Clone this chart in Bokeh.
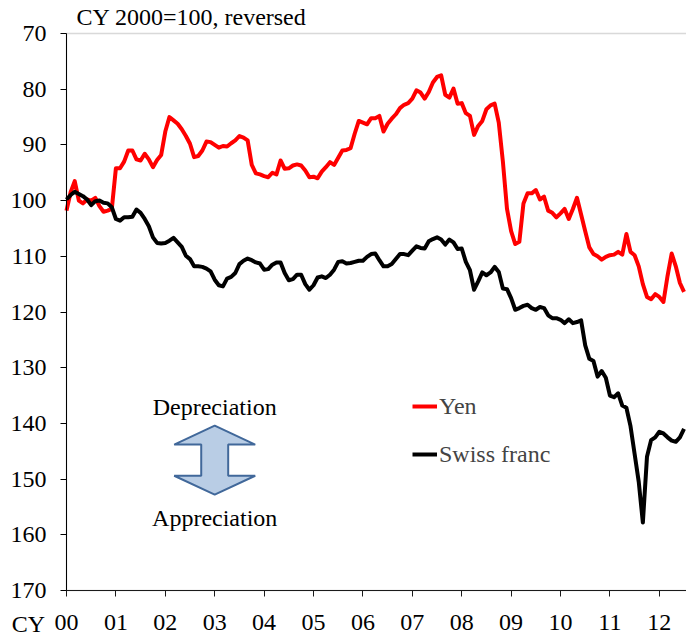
import numpy as np
from bokeh.plotting import figure
from bokeh.models import (Range1d, FixedTicker, Legend, LegendItem, Label, BoxAnnotation,
                          PolyAnnotation, ColumnDataSource)
from bokeh.embed import file_html
from bokeh.resources import INLINE

# ---------------- data (monthly, Jan 2000 onwards; CY2000=100, reversed axis) -------------
start_year = 2000
yen = [101.8, 98.5, 96.5, 100.0, 100.5, 99.8, 100.0, 99.5, 101.0, 102.0, 101.8, 101.5,
       94.2, 94.2, 93.0, 91.0, 91.0, 92.6, 92.8, 91.6, 92.6, 94.0, 92.7, 91.8,
       87.6, 85.0, 85.6, 86.2, 87.2, 88.4, 89.8, 92.2, 92.0, 91.0, 89.4, 89.5,
       90.0, 90.5, 90.2, 90.3, 89.7, 89.2, 88.4, 88.7, 89.2, 93.6, 95.1, 95.3,
       95.6, 95.8, 95.0, 95.3, 92.8, 94.3, 94.2, 93.7, 93.5, 93.7, 94.6, 95.8,
       95.7, 96.0, 94.8, 94.0, 93.1, 93.6, 92.3, 91.0, 90.9, 90.6, 88.0, 85.7,
       86.0, 86.3, 85.2, 85.2, 84.8, 87.6, 86.2, 85.3, 84.5, 83.4, 82.8, 82.5,
       81.7, 80.2, 80.6, 81.7, 80.5, 78.8, 77.8, 77.5, 81.0, 81.5, 79.9, 82.6,
       82.5, 84.3, 84.8, 88.2, 86.6, 85.7, 83.6, 82.9, 82.6, 86.0, 93.0, 101.5,
       105.5, 107.8, 107.4, 100.5, 98.7, 98.7, 98.1, 99.8, 99.3, 101.8, 102.2, 103.0,
       102.3, 101.5, 103.3, 101.5, 99.5, 102.5, 105.5, 108.4, 109.6, 110.0, 110.6, 110.1,
       109.8, 109.7, 109.2, 109.7, 106.0, 109.2, 109.8, 111.8, 115.0, 117.3, 117.7, 116.8,
       117.3, 118.2, 113.5, 109.5, 111.8, 114.8, 116.4]
swiss_franc = [99.8, 99.0, 98.4, 98.8, 99.2, 99.8, 100.8, 100.1, 100.0, 100.4, 100.5, 101.2,
       103.3, 103.6, 103.0, 103.0, 102.9, 101.6, 102.2, 103.3, 104.6, 106.6, 107.6, 107.7,
       107.6, 107.2, 106.7, 107.5, 108.3, 109.9, 110.5, 111.8, 111.8, 111.9, 112.2, 112.7,
       114.2, 115.2, 115.4, 114.0, 113.7, 113.0, 111.4, 110.8, 110.4, 110.7, 111.1, 111.3,
       112.4, 112.3, 111.5, 111.1, 111.1, 113.0, 114.3, 114.1, 113.3, 113.3, 115.0, 116.0,
       115.2, 113.8, 113.6, 113.9, 113.3, 112.4, 111.0, 110.9, 111.3, 111.2, 111.0, 110.8,
       110.8, 110.1, 109.6, 109.5, 110.7, 111.8, 111.8, 111.4, 110.5, 109.6, 109.6, 109.8,
       109.0, 108.2, 108.5, 108.6, 107.3, 106.9, 106.6, 107.0, 107.9, 107.0, 107.5, 108.7,
       108.6, 111.0, 112.5, 116.0, 114.5, 112.9, 113.4, 112.9, 111.9, 112.8, 115.8, 115.9,
       117.5, 119.6, 119.3, 118.9, 118.7, 119.3, 119.6, 119.1, 119.3, 120.6, 121.1, 121.1,
       121.4, 122.0, 121.3, 122.0, 121.8, 121.5, 126.0, 128.4, 128.8, 131.6, 130.6, 131.8,
       135.0, 135.3, 134.6, 136.8, 137.2, 140.5, 145.5, 150.5, 157.8, 146.0, 143.0, 142.5,
       141.5, 141.8, 142.5, 143.1, 143.3, 142.5, 141.0]
year_labels = ["00", "01", "02", "03", "04", "05", "06", "07", "08", "09", "10", "11", "12"]
y_ticks = [70, 80, 90, 100, 110, 120, 130, 140, 150, 160, 170]
series_names = ["Yen", "Swiss franc"]
series_colors = ["#FF0000", "#000000"]

t = [start_year + i / 12.0 for i in range(len(yen))]
src = ColumnDataSource(dict(t=t, yen=yen, chf=swiss_franc))

FONT = "Liberation Serif"
FS = "24px"

# plotting area: x 2000 .. mid-2012, y 70 .. 170 (reversed)
x_lo, x_hi = start_year, start_year + 150.6 / 12.0
y_lo, y_hi = 70, 170
# the frame covers the whole canvas; axes are fixed at the plotting-area edges
px_per_year = 620 / (x_hi - x_lo)
px_per_unit = 557 / (y_hi - y_lo)
x_start = x_lo - 66 / px_per_year
y_top = y_lo - 33 / px_per_unit
y_bottom = y_hi + 51 / px_per_unit

p = figure(width=686, height=641, output_backend="svg", toolbar_location=None,
           x_range=Range1d(x_start, x_hi), y_range=Range1d(y_bottom, y_top),
           min_border=0, min_border_left=0, min_border_right=0,
           min_border_top=0, min_border_bottom=0)
p.outline_line_color = None
p.grid.grid_line_color = None
p.background_fill_color = "white"
p.border_fill_color = "white"

# axes
yax = p.yaxis[0]
yax.fixed_location = x_lo
yax.bounds = (y_lo, y_hi)
yax.ticker = FixedTicker(ticks=y_ticks)
yax.major_label_text_font = FONT
yax.major_label_text_font_size = FS
yax.major_label_text_color = "#000000"
yax.major_tick_out = 6
yax.major_tick_in = 0
yax.minor_tick_out = 0
yax.minor_tick_in = 0
yax.major_label_standoff = 14
yax.axis_line_color = "#000000"
yax.major_tick_line_color = "#000000"

xax = p.xaxis[0]
xax.fixed_location = y_hi
xax.bounds = (x_lo, x_hi)
xax.ticker = FixedTicker(ticks=[start_year + i for i in range(len(year_labels))])
xax.major_label_overrides = {start_year + i: lab for i, lab in enumerate(year_labels)}
xax.major_label_text_font = FONT
xax.major_label_text_font_size = FS
xax.major_label_text_color = "#000000"
xax.major_tick_out = 6
xax.major_tick_in = 0
xax.minor_tick_out = 0
xax.minor_tick_in = 0
xax.major_label_standoff = 18
xax.axis_line_color = "#1a1a1a"
xax.major_tick_line_color = "#1a1a1a"

# plot-area border (only the gray top edge is visible)
p.add_layout(BoxAnnotation(left=x_lo, right=x_hi + 1, top=y_lo, bottom=y_hi,
                           fill_alpha=0, line_color="#808080", line_width=1.5, level="underlay"))

# series
r_yen = p.line("t", "yen", source=src, line_color=series_colors[0], line_width=4, line_join="round")
r_chf = p.line("t", "chf", source=src, line_color=series_colors[1], line_width=4, line_join="round")

legend = Legend(items=[LegendItem(label=series_names[0], renderers=[r_yen]),
                       LegendItem(label=series_names[1], renderers=[r_chf])],
                location=(412, 173), orientation="vertical",
                label_text_font=FONT, label_text_font_size=FS,
                glyph_width=25, glyph_height=28, label_height=28, spacing=20,
                padding=0, margin=0, label_standoff=2,
                border_line_color=None, background_fill_alpha=0)
p.add_layout(legend)

# double-headed arrow annotation
ax_c, wing, shaft = 2003.0, 0.82, 0.273
y_tip, y_w1, y_w2, y_bot = 140.4, 143.8, 149.4, 152.8
arrow = PolyAnnotation(
    xs=[ax_c, ax_c + wing, ax_c + shaft, ax_c + shaft, ax_c + wing, ax_c,
        ax_c - wing, ax_c - shaft, ax_c - shaft, ax_c - wing],
    ys=[y_tip, y_w1, y_w1, y_w2, y_w2, y_bot, y_w2, y_w2, y_w1, y_w1],
    fill_color="#B9CDE5", fill_alpha=1.0, line_color="#41689A", line_alpha=1.0, line_width=2)
p.add_layout(arrow)

for txt, yy in [("Depreciation", 137.1), ("Appreciation", 156.9)]:
    p.add_layout(Label(x=ax_c, y=yy, text=txt, text_align="center", text_baseline="middle",
                       text_font=FONT, text_font_size=FS, text_color="#000000"))

# title and CY label
p.add_layout(Label(x=x_lo + 10 / px_per_year, y=y_lo - 16.5 / px_per_unit, text="CY 2000=100, reversed",
                   text_align="left", text_baseline="middle",
                   text_font=FONT, text_font_size=FS, text_color="#000000"))
p.add_layout(Label(x=x_lo - 38 / px_per_year, y=y_hi + 33 / px_per_unit, text="CY",
                   text_align="center", text_baseline="middle",
                   text_font=FONT, text_font_size=FS, text_color="#000000"))

open("out.html", "w").write(file_html(p, INLINE))
